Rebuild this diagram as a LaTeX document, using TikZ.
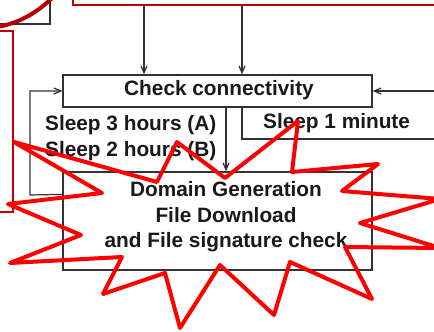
\documentclass[tikz,border=0pt]{standalone}
\usepackage{fontspec}
\setmainfont{Liberation Sans}
\usetikzlibrary{arrows.meta}
\definecolor{boxline}{RGB}{50,50,50}
\definecolor{frame}{RGB}{192,0,0}
\definecolor{arcred}{RGB}{180,0,0}
\definecolor{burst}{RGB}{255,0,0}
\begin{document}
\begin{tikzpicture}[x=1pt,y=-1pt,
  conn/.style={draw=boxline,line width=1.2pt},
  arr/.style={conn,-{Straight Barb[length=7pt,width=6pt,line width=1.2pt]}},
  box/.style={draw=boxline,line width=1.3pt,inner sep=0pt},
  lbl/.style={font=\fontsize{20.8}{25.5}\selectfont\bfseries,text=black!90,inner sep=0pt},
  redframe/.style={draw=frame,line width=1.3pt},
  star/.style={draw=burst,line width=4pt,line join=round}]
\clip (0,0) rectangle (434,332);
\fill[white] (0,0) rectangle (434,332);

% partial frames at the top and left
\draw[conn] (-5,-5) rectangle (50,24);
\draw[line width=4pt,draw=arcred] (-3,27) .. controls (20,23) and (38,12) .. (53,-3);
\draw[redframe] (73,-10) rectangle (440,5);
\draw[redframe] (-10,31) rectangle (13,212);

% main boxes
\node[box,minimum width=309pt,minimum height=32pt] (chk) at (217.5,91) {};
\node[lbl] (chktxt) at (219,90) {Check connectivity};
\node[box,minimum width=309pt,minimum height=98pt] (dom) at (217.5,221) {};
\node[lbl,align=center] (domtxt) at (226,217) {Domain Generation\\File Download\\and File signature check};

% inputs from above
\coordinate (ltop) at (144,5);
\coordinate (rtop) at (242,5);
\draw[arr] (ltop) -- (ltop|-chk.north);
\draw[arr] (rtop) -- (rtop|-chk.north);

% check -> domain generation
\coordinate (mid) at (226,0);
\draw[arr] (mid|-chk.south) -- (mid|-dom.north);

% long sleep loop on the left
\draw[arr] ([yshift=-23pt]dom.north west) -- (30,195) -- (30,91) -- (chk.west);
\node[lbl,anchor=west,align=left] (slong) at (45,138) {Sleep 3 hours (A)\\Sleep 2 hours (B)};

% short sleep loop on the right
\coordinate (rin) at (440,91);
\draw[arr] (rin) -- (chk.east);
\draw[conn] (rtop|-chk.south) -- (242,139) -- (440,139);
\node[lbl,anchor=west] (sshort) at (263,123) {Sleep 1 minute};

% starburst
\draw[star] (14,142) -- (157,182) -- (177,142) -- (225,178) -- (298,121)
  -- (292,172) -- (378,164) -- (342,191) -- (440,199) -- (360,223)
  -- (440,248) -- (345,247) -- (372,299) -- (290,262) -- (274,315)
  -- (220,265) -- (180,328) -- (165,273) -- (103,294) -- (122,257)
  -- (10,263) -- (81,235) -- (8,204) -- (102,193) -- cycle;
\end{tikzpicture}
\end{document}
